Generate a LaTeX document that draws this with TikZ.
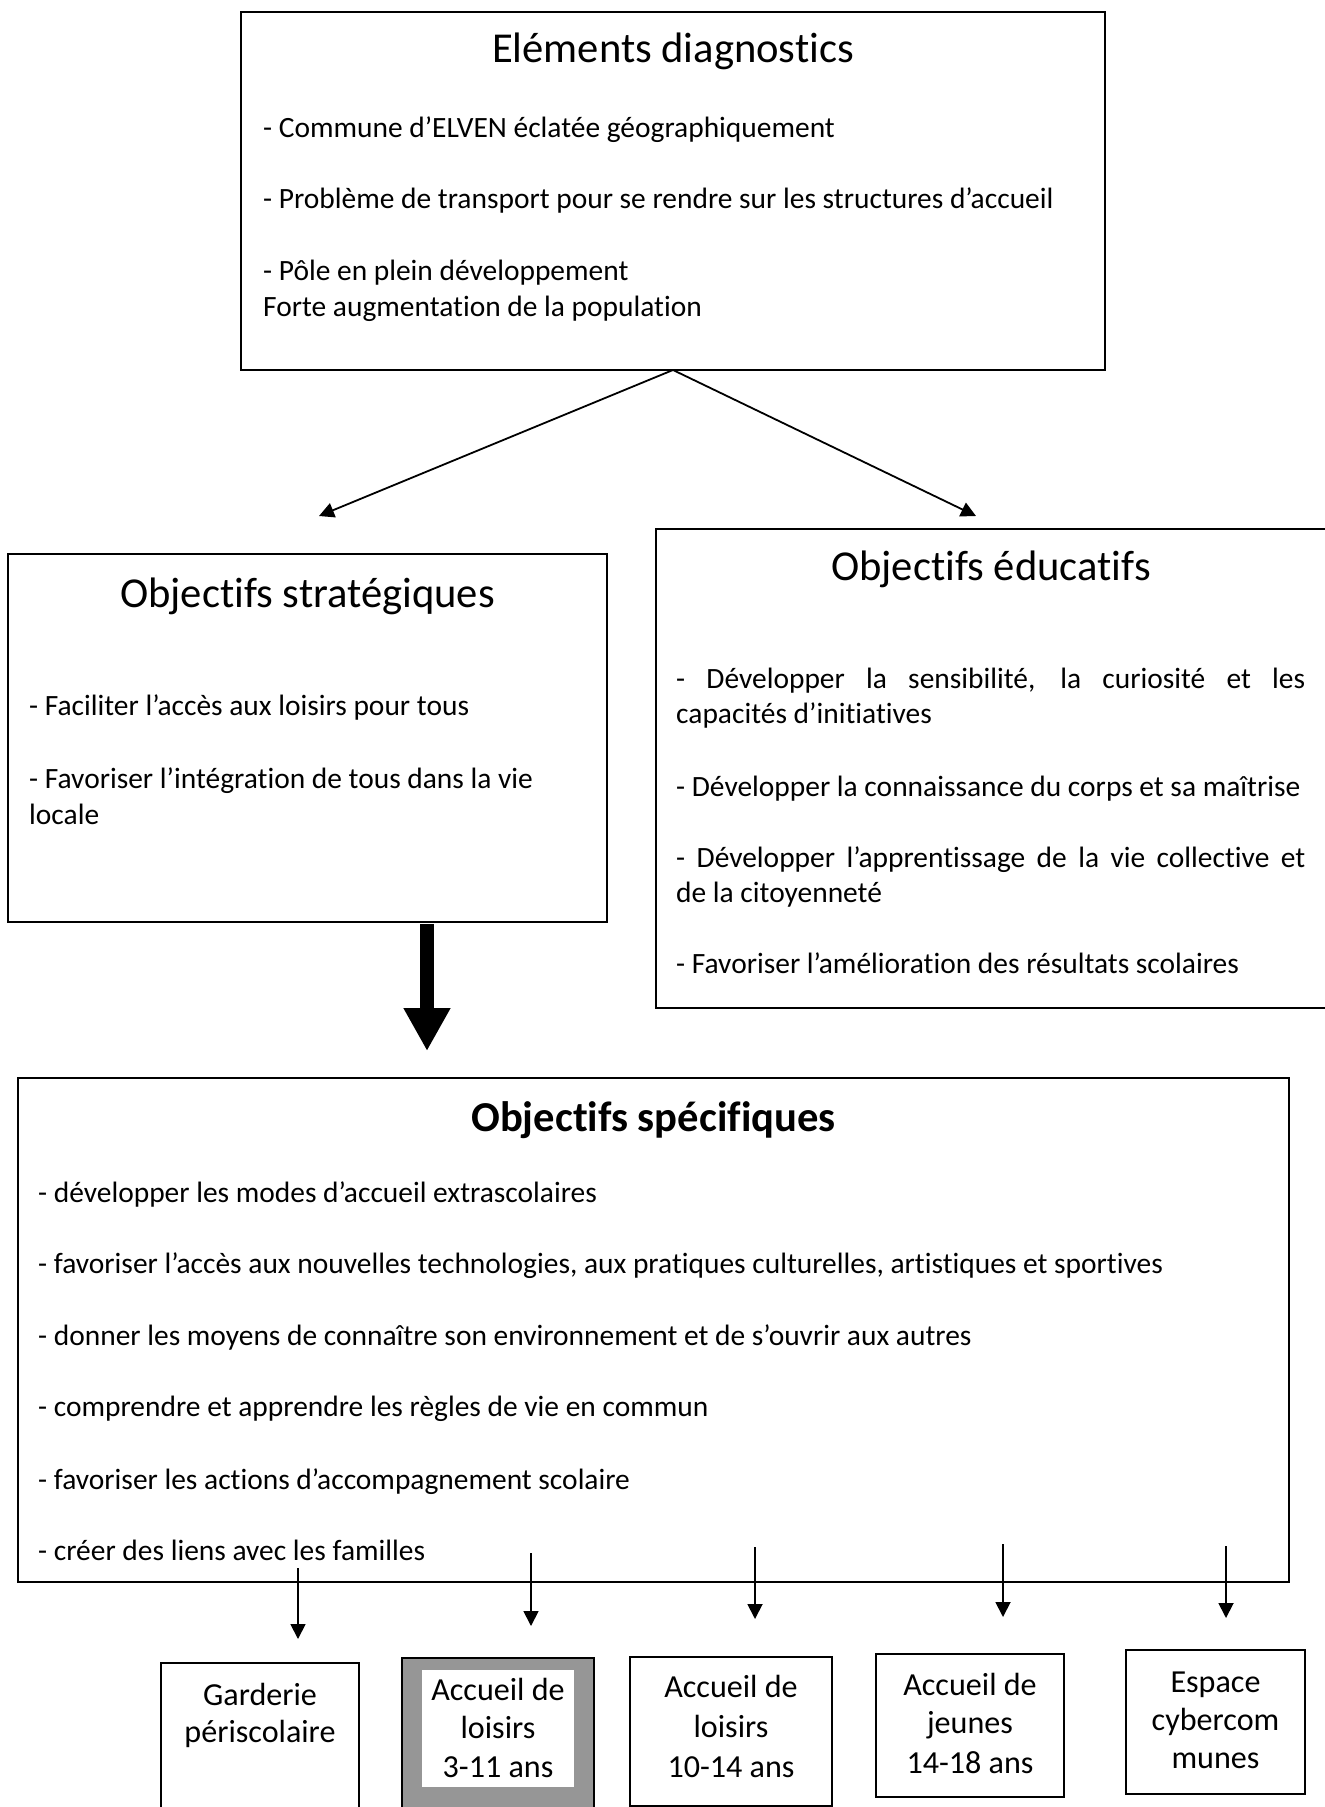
\documentclass[tikz,border=0pt]{standalone}
\usepackage{fontspec}
\setmainfont{Carlito}[Ligatures=NoCommon]
\usetikzlibrary{arrows.meta}
\definecolor{boxgray}{RGB}{150,150,150}
\tikzset{
  box/.style={draw=black, line width=2pt, inner sep=0pt, outer sep=0pt},
  body/.style={anchor=base west, inner sep=0pt, font=\fontsize{29.45}{36}\selectfont},
  ttl/.style={anchor=base, inner sep=0pt, font=\fontsize{42.6}{50}\selectfont},
  lbl/.style={anchor=base, inner sep=0pt, font=\fontsize{32.1}{38}\selectfont},
  conn/.style={line width=1.8pt, -{Triangle[width=15pt,length=15pt]}},
  bigarrow/.style={line width=14pt, -{Triangle[width=44pt,length=43pt]}}
}
\begin{document}
\begin{tikzpicture}[x=1pt,y=-1pt]
\useasboundingbox (0,0) rectangle (1325,1807);
\fill[white] (0,0) rectangle (1325,1807);

% boxes
\node[box, minimum width=864pt, minimum height=358.5pt] (diag) at (673,190.75) {};
\node[box, minimum width=599pt, minimum height=368pt] (strat) at (307.5,738) {};
\node[box, minimum width=672pt, minimum height=479pt] (edu) at (992,768.5) {};
\node[box, minimum width=1271pt, minimum height=504pt] (spec) at (653.5,1330) {};
\node[box, minimum width=198pt, minimum height=152pt] (b1) at (260,1739) {};
\node[box, fill=boxgray, minimum width=192pt, minimum height=157pt] (b2) at (498,1736.5) {};
\node[fill=white, inner sep=0pt, minimum width=152pt, minimum height=117pt] (b2in) at (498,1728.5) {};
\node[box, minimum width=202pt, minimum height=149pt] (b3) at (731,1731.5) {};
\node[box, minimum width=188pt, minimum height=143pt] (b4) at (970,1725.5) {};
\node[box, minimum width=179pt, minimum height=144pt] (b5) at (1215.5,1722) {};

% diagnostic texts
\node[ttl] (diagT) at (673,62) {Eléments diagnostics};
\node[body] (d1) at (263,137) {- Commune d’ELVEN éclatée géographiquement};
\node[body] (d2) at (263,208) {- Problème de transport pour se rendre sur les structures d’accueil};
\node[body] (d3) at (263,280) {- Pôle en plein développement};
\node[body] (d4) at (263,316) {Forte augmentation de la population};

% strategic
\node[ttl] (stratT) at (307.5,607) {Objectifs stratégiques};
\node[body] (s1) at (29,715) {- Faciliter l’accès aux loisirs pour tous};
\node[body] (s2) at (29,788) {- Favoriser l’intégration de tous dans la vie};
\node[body] (s3) at (29,824) {locale};

% educational
\node[ttl] (eduT) at (991,580) {Objectifs éducatifs};
\node[body] (e1) at (676,688) {\makebox[629pt][s]{- Développer la sensibilité, la curiosité et les}};
\node[body] (e2) at (676,723) {capacités d’initiatives};
\node[body] (e3) at (676,796) {- Développer la connaissance du corps et sa maîtrise};
\node[body] (e4) at (676,867) {\makebox[629pt][s]{- Développer l’apprentissage de la vie collective et}};
\node[body] (e5) at (676,902) {de la citoyenneté};
\node[body] (e6) at (676,973) {- Favoriser l’amélioration des résultats scolaires};

% specific
\node[ttl, font=\fontsize{42.6}{50}\selectfont\bfseries] (specT) at (653.5,1131) {Objectifs spécifiques};
\node[body] (p1) at (38,1202) {- développer les modes d’accueil extrascolaires};
\node[body] (p2) at (38,1273) {- favoriser l’accès aux nouvelles technologies, aux pratiques culturelles, artistiques et sportives};
\node[body] (p3) at (38,1345) {- donner les moyens de connaître son environnement et de s’ouvrir aux autres};
\node[body] (p4) at (38,1416) {- comprendre et apprendre les règles de vie en commun};
\node[body] (p5) at (38,1489) {- favoriser les actions d’accompagnement scolaire};
\node[body] (p6) at (38,1560) {- créer des liens avec les familles};

% bottom labels
\node[lbl] (l1a) at (260,1705) {Garderie};
\node[lbl] (l1b) at (260,1742) {périscolaire};
\node[lbl] (l2a) at (498,1700) {Accueil de};
\node[lbl] (l2b) at (498,1738) {loisirs};
\node[lbl] (l2c) at (498,1777) {3-11 ans};
\node[lbl] (l3a) at (731,1697) {Accueil de};
\node[lbl] (l3b) at (731,1737) {loisirs};
\node[lbl] (l3c) at (731,1777) {10-14 ans};
\node[lbl] (l4a) at (970,1695) {Accueil de};
\node[lbl] (l4b) at (970,1733) {jeunes};
\node[lbl] (l4c) at (970,1773) {14-18 ans};
\node[lbl] (l5a) at (1215.5,1692) {Espace};
\node[lbl] (l5b) at (1215.5,1730) {cybercom};
\node[lbl] (l5c) at (1215.5,1768) {munes};

% connectors
\coordinate (dl) at (319,516);
\coordinate (dr) at (976,516);
\draw[conn] (diag.south) -- (dl);
\draw[conn] (diag.south) -- (dr);

\coordinate (ts) at (427,924);
\coordinate (te) at (427,1051);
\draw[bigarrow] (ts) -- (te);

\coordinate (a1s) at (298,1568);
\coordinate (a1e) at (298,1639);
\coordinate (a2s) at (531,1553);
\coordinate (a2e) at (531,1626);
\coordinate (a3s) at (755,1547);
\coordinate (a3e) at (755,1619);
\coordinate (a4s) at (1003,1544);
\coordinate (a4e) at (1003,1617);
\coordinate (a5s) at (1226,1546);
\coordinate (a5e) at (1226,1618);
\draw[conn] (a1s) -- (a1e);
\draw[conn] (a2s) -- (a2e);
\draw[conn] (a3s) -- (a3e);
\draw[conn] (a4s) -- (a4e);
\draw[conn] (a5s) -- (a5e);
\end{tikzpicture}
\end{document}
